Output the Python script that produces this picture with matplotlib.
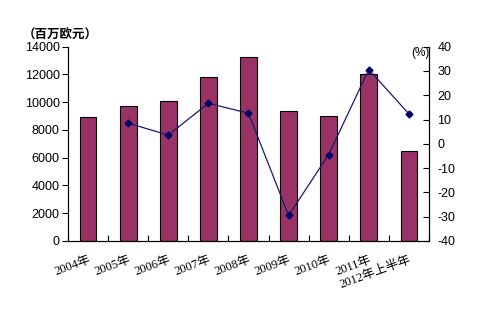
import matplotlib
matplotlib.use("Agg")
import matplotlib.pyplot as plt
import numpy as np

# categories and values
categories = ['2004年', '2005年', '2006年', '2007年', '2008年', '2009年', '2010年', '2011年', '2012年上半年']
amounts = [8950, 9730, 10090, 11830, 13270, 9370, 9010, 12050, 6450]   # 百万欧元
growth = [np.nan, 8.5, 3.6, 16.7, 12.6, -29.5, -4.4, 30.6, 12.3]       # %

left_ticks = list(range(0, 14001, 2000))
right_ticks = list(range(-40, 41, 10))

sans = ['Liberation Sans', 'Noto Sans CJK SC']
serif = ['Liberation Serif', 'Noto Sans CJK SC']

fig = plt.figure(figsize=(4.8, 3.31), dpi=100)
ax = fig.add_axes([0.1417, 0.272, 0.752, 0.587])

x = np.arange(len(categories))
ax.bar(x, amounts, width=0.42, color='#993366', edgecolor='black', linewidth=0.8, zorder=2)
ax.set_xlim(-0.5, len(categories) - 0.5)
ax.set_ylim(0, 14000)
ax.set_yticks(left_ticks)
ax.set_yticklabels([str(t) for t in left_ticks], family=sans, fontsize=9)
ax.tick_params(axis='y', direction='out', length=4, width=0.8, pad=2)

# category boundaries carry the ticks, labels sit under the bars
ax.set_xticks(np.arange(len(categories) + 1) - 0.5)
ax.set_xticklabels([])
ax.tick_params(axis='x', direction='in', length=4, width=0.8)
for i, lab in enumerate(categories):
    ax.annotate(lab, xy=(i, 0), xycoords=('data', 'axes fraction'),
                xytext=(0, -9), textcoords='offset points',
                rotation=20, rotation_mode='anchor', ha='right', va='top',
                family=serif, fontsize=9)

ax.spines['top'].set_visible(False)
for s in ['left', 'bottom', 'right']:
    ax.spines[s].set_linewidth(0.8)

ax2 = ax.twinx()
ax2.plot(x, growth, color='#1a1a6e', linewidth=0.9, marker='D', markersize=3.5,
         markerfacecolor='#000066', markeredgecolor='#000066', zorder=3)
ax2.set_ylim(-40, 40)
ax2.set_yticks(right_ticks)
ax2.set_yticklabels([str(t) for t in right_ticks], family=sans, fontsize=9)
ax2.tick_params(axis='y', direction='in', length=4, width=0.8, pad=6)
ax2.spines['top'].set_visible(False)
ax2.spines['right'].set_linewidth(0.8)

fig.text(0.048, 0.895, '（百万欧元）', family=['Noto Sans CJK SC'], fontsize=9,
         fontweight='bold', va='center', ha='left')
fig.text(0.857, 0.84, '(%)', family=sans, fontsize=8.5, va='center', ha='left')

fig.savefig('out.png', dpi=100)
